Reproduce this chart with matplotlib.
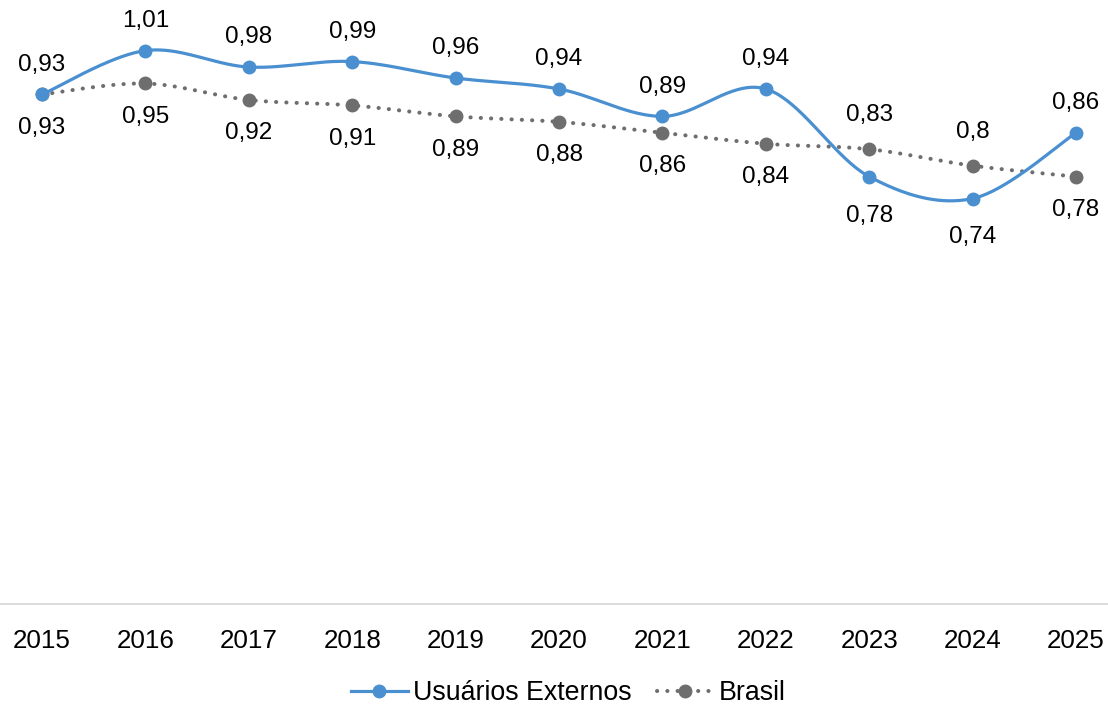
import numpy as np
import matplotlib.pyplot as plt
from matplotlib.lines import Line2D

plt.rcParams['font.family'] = ['Liberation Sans', 'DejaVu Sans']

anos = [2015, 2016, 2017, 2018, 2019, 2020, 2021, 2022, 2023, 2024, 2025]
usuarios = [0.93, 1.01, 0.98, 0.99, 0.96, 0.94, 0.89, 0.94, 0.78, 0.74, 0.86]
brasil = [0.93, 0.95, 0.92, 0.91, 0.89, 0.88, 0.86, 0.84, 0.83, 0.80, 0.78]

AZUL = '#4a90d0'
CINZA = '#6e6e6e'
PONTILHADO = (0, (0.05, 2.5))


def suaviza(x, y, n=40):
    # bezier segments with catmull-rom style control points
    x = np.asarray(x, float)
    y = np.asarray(y, float)
    p = np.column_stack([x, y])
    pts = []
    for i in range(len(p) - 1):
        p0 = p[i - 1] if i > 0 else p[i]
        p1 = p[i]
        p2 = p[i + 1]
        p3 = p[i + 2] if i + 2 < len(p) else p[i + 1]
        c1 = p1 + (p2 - p0) / 6.0
        c2 = p2 - (p3 - p1) / 6.0
        t = np.linspace(0, 1, n)[:, None]
        seg = ((1 - t) ** 3) * p1 + 3 * ((1 - t) ** 2) * t * c1 + 3 * (1 - t) * t ** 2 * c2 + t ** 3 * p2
        pts.append(seg if i == 0 else seg[1:])
    pts = np.vstack(pts)
    return pts[:, 0], pts[:, 1]


fig = plt.figure(figsize=(11.08, 7.08), dpi=100)
ax = fig.add_axes([0.0, 1 - 604 / 708, 1.0, 604 / 708])

px = 10 / 1034
ax.set_xlim(2015 - 42 * px, 2025 + 32 * px)
ax.set_ylim(0, 603 / 547)

xs, ys = suaviza(anos, brasil)
ax.plot(xs, ys, color=CINZA, lw=2.9, linestyle=PONTILHADO,
        dash_capstyle='round', zorder=2)
ax.plot(anos, brasil, 'o', color=CINZA, ms=9, zorder=3)

xs, ys = suaviza(anos, usuarios)
ax.plot(xs, ys, color=AZUL, lw=2.3, solid_capstyle='round', zorder=4)
ax.plot(anos, usuarios, 'o', color=AZUL, ms=9, zorder=5)


def fmt(v):
    return ('%.2f' % v).rstrip('0').replace('.', ',')


for a, u, b in zip(anos, usuarios, brasil):
    if u >= b:
        du, db = 21.5, -24
    else:
        du, db = -28, 24.5
    ax.annotate(fmt(u), (a, u), xytext=(0, du), textcoords='offset points',
                ha='center', va='center', fontsize=17.5, color='black')
    ax.annotate(fmt(b), (a, b), xytext=(0, db), textcoords='offset points',
                ha='center', va='center', fontsize=17.5, color='black')

for s in ['top', 'left', 'right']:
    ax.spines[s].set_visible(False)
ax.spines['bottom'].set_color('#d9d9d9')
ax.spines['bottom'].set_linewidth(1.3)
ax.set_yticks([])
ax.set_xticks(anos)
ax.set_xticklabels([str(a) for a in anos], fontsize=18.7)
ax.tick_params(axis='x', length=0, pad=18)

handles = [
    Line2D([], [], color=AZUL, lw=2.3, marker='o', ms=9),
    Line2D([], [], color=CINZA, lw=2.9, linestyle=PONTILHADO,
           dash_capstyle='round', marker='o', ms=9),
]
fig.legend(handles, ['Usuários Externos', 'Brasil'], loc='center',
           bbox_to_anchor=(0.513, 1 - 693 / 708), ncol=2, frameon=False,
           fontsize=19.3, handlelength=2.1, handletextpad=0.2,
           columnspacing=0.95)

fig.savefig('out.png', dpi=100)
